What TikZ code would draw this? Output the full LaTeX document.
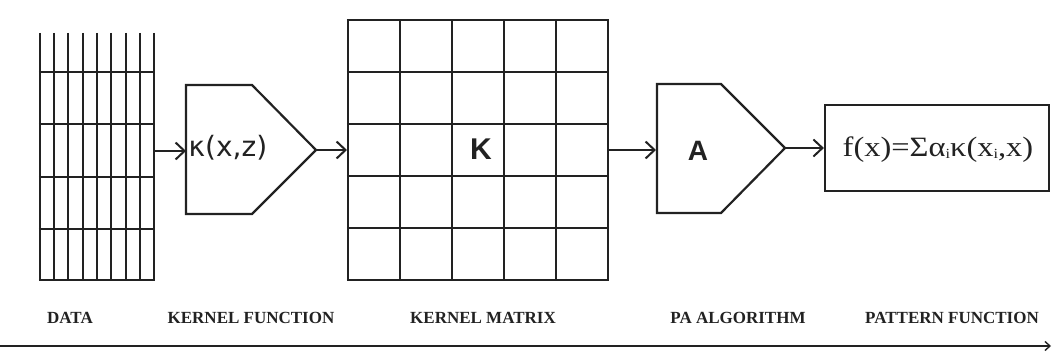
\documentclass[tikz,border=0pt]{standalone}
\usepackage{fontspec}
\setmainfont{Liberation Serif}
\newfontfamily\kernsans{DejaVu Sans}
\newfontfamily\boldsans{Liberation Sans}
\usepackage{graphicx}
\usetikzlibrary{arrows.meta}
\definecolor{ink}{HTML}{222222}
\tikzset{
  gridline/.style={draw=ink, line width=2.2pt},
  flow/.style={draw=ink, line width=2pt, -{Straight Barb[length=9pt,width=17pt,line width=2pt]}},
  pent/.style={draw=ink, line width=2.2pt, line join=miter},
  steplabel/.style={font=\bfseries\fontsize{17}{18}\selectfont, text=ink, inner sep=0pt, anchor=base},
}
\begin{document}
\begin{tikzpicture}[x=1pt,y=-1pt]
\useasboundingbox[fill=white] (0,0) rectangle (1052,353);
% DATA grid
\foreach \x in {40,54,68,83,97,111,126,140,154} \draw[gridline] (\x,33) -- (\x,281.1);
\foreach \y in {72,124,177,229,280} \draw[gridline] (38.9,\y) -- (155.1,\y);
\coordinate (dataout) at (155,151);
% kernel function pentagon
\draw[pent] (186,85) -- (252,85) -- (316,150) -- (252,214) -- (186,214) -- cycle;
\coordinate (kin) at (186,151);
\coordinate (kout) at (317,150);
\node[text=ink, inner sep=0pt] (kappa) at (228,148) {\kernsans\fontsize{28}{30}\selectfont κ(x,z)};
% kernel matrix
\foreach \i in {0,...,5} \draw[gridline] ({348+52*\i},20) -- ({348+52*\i},280);
\foreach \i in {0,...,5} \draw[gridline] (346.9,{20+52*\i}) -- (609.1,{20+52*\i});
\coordinate (min) at (347,150);
\coordinate (mout) at (609,150);
\node[text=ink, inner sep=0pt] (K) at (481,149) {\boldsans\bfseries\fontsize{30}{32}\selectfont K};
% PA algorithm pentagon
\draw[pent] (657,84) -- (721,84) -- (785,148) -- (721,213) -- (657,213) -- cycle;
\coordinate (ain) at (656,150);
\coordinate (aout) at (786,148);
\node[text=ink, inner sep=0pt] (A) at (698,151) {\boldsans\bfseries\fontsize{28}{30}\selectfont A};
% pattern function box
\node[draw=ink, line width=2.2pt, minimum width=224pt, minimum height=86pt, inner sep=0pt] (pf) at (937,148) {};
\node[text=ink, inner sep=0pt] (pftext) at (938,150) {\scalebox{1.16}[1]{\fontsize{28}{30}\selectfont f(x)=Σα\raisebox{-0.05em}{\fontsize{14}{14}\selectfont i}κ(x\raisebox{-0.05em}{\fontsize{14}{14}\selectfont i},x)}};
% connectors
\draw[flow] (dataout) -- (kin);
\draw[flow] (kout) -- (min);
\draw[flow] (mout) -- (ain);
\draw[flow] (aout) -- (pf.west);
% labels
\node[steplabel] (l1) at (70,323) {DATA};
\node[steplabel] (l2) at (251,323) {KERNEL FUNCTION};
\node[steplabel] (l3) at (483,323) {KERNEL MATRIX};
\node[steplabel] (l4) at (738,323) {PA ALGORITHM};
\node[steplabel] (l5) at (952,323) {PATTERN FUNCTION};
% axis
\coordinate (axs) at (0,346);
\coordinate (axe) at (1051,346);
\draw[draw=ink, line width=2.2pt, -{Straight Barb[length=5pt,width=9pt,line width=1.4pt]}] (axs) -- (axe);
\end{tikzpicture}
\end{document}
